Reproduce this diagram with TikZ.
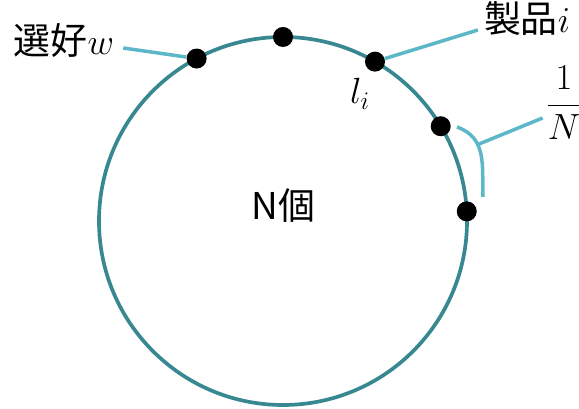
\documentclass[tikz,border=0pt]{standalone}
\usepackage[no-math]{fontspec}
\setmainfont{Noto Sans CJK JP}
\begin{document}
\begin{tikzpicture}[>=stealth,
    ring/.style={line width=2.1pt, ringteal},
    conn/.style={line width=2pt, linkblue},
    dot/.style={circle, fill=black, inner sep=0pt, minimum size=0.4cm},
    lbl/.style={font=\fontsize{21}{24}\selectfont, inner sep=1pt}]
    % Colours of the ring and of the leader lines
    \definecolor{ringteal}{RGB}{56, 136, 146}
    \definecolor{linkblue}{RGB}{92, 184, 200}

    % Picture frame (579 x 409 px, 1 px = 0.02 cm)
    \useasboundingbox (0, 0) rectangle (11.58, 8.18);

    % The ring of N products
    \coordinate (c) at (5.66, 3.76);
    \draw[ring] (c) circle (3.68);
    \node[lbl] (count) at (5.67, 4.06) {N個};

    % Points on the ring
    \node[dot] (d1) at ([shift={(118:3.68)}]c) {};
    \node[dot] (d2) at ([shift={(90:3.68)}]c) {};
    \node[dot] (d3) at ([shift={(60:3.68)}]c) {};
    \node[dot] (d4) at ([shift={(31:3.68)}]c) {};
    \node[dot] (d5) at ([shift={(3:3.68)}]c) {};

    % Labels
    \node[lbl] (pref) at (1.28, 7.36) {選好$w$};
    \node[lbl] (prod) at (10.54, 7.80) {製品$i$};
    \node[lbl] (loc) at (7.20, 6.30) {$l_i$};
    \node[lbl] (frac) at (11.28, 6.12) {$\displaystyle\frac{1}{N}$};

    % Leader lines
    \draw[conn] ([shift={(0.14, -0.14)}]pref.east) -- (d1);
    \draw[conn] (d3) -- ([shift={(-0.08, -0.22)}]prod.west);

    % Bracket for the gap 1/N
    \coordinate (br1) at (9.14, 5.64);
    \coordinate (br2) at (9.66, 4.24);
    \draw[conn] (br1) to[out=-20, in=92, looseness=1.1] coordinate[pos=0.36] (brm) (br2);
    \draw[conn] (brm) -- ([shift={(-0.02, -0.3)}]frac.west);

\end{tikzpicture}
\end{document}
